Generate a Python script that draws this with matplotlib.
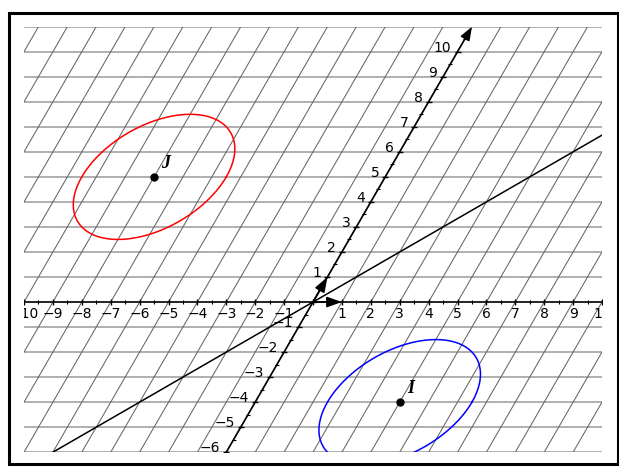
import numpy as np
import matplotlib
matplotlib.use('Agg')
import matplotlib.pyplot as plt
from matplotlib.patches import Rectangle
from matplotlib.transforms import ScaledTranslation

# ---- data (oblique coordinate system) ----
ANGLE_DEG = 60
x_ticks = list(range(-10, 11))
y_ticks = list(range(-6, 11))
x_minor = [v + 0.5 for v in range(-10, 10)]
y_minor = [v + 0.5 for v in range(-6, 11)]
grid_rows = list(range(-6, 12))
grid_cols = list(range(-17, 14))
y_axis_span = [-6, 11]
point_names = ['J', 'I']
point_a = [-8, 5]
point_b = [5, -4]
point_colors = ['red', 'blue']
circle_radius = 2.5
line_t = [-6, 8]  # line b = a

cs, sn = np.cos(np.radians(ANGLE_DEG)), np.sin(np.radians(ANGLE_DEG))


def to_xy(a, b):
    a = np.asarray(a, dtype=float)
    b = np.asarray(b, dtype=float)
    return a + b * cs, b * sn


fig = plt.figure(figsize=(6.19, 4.70), dpi=100)
ax = fig.add_axes([24 / 619, (470 - 452.2) / 470, 578 / 619, 425.5 / 470])
ax.set_xlim(-10, 10)
ax.set_ylim(y_axis_span[0] * sn, y_axis_span[1] * sn)
ax.axis('off')


def offset(dx_px, dy_px):
    return ax.transData + ScaledTranslation(dx_px / 100, dy_px / 100, fig.dpi_scale_trans)


# grid
for k in grid_rows:
    ax.plot([-11, 11], [k * sn, k * sn], color='#9a9a9a', lw=1.1, zorder=1)
for n in grid_cols:
    gx, gy = to_xy([n, n], y_axis_span)
    ax.plot(gx, gy, color='#666666', lw=0.75, zorder=1)

# line b = a
lx, ly = to_xy(line_t, line_t)
ax.plot(lx, ly, color='black', lw=1.1, zorder=3)

# x axis
ax.plot([-10, 10], [0, 0], color='black', lw=1.1, zorder=4)
ax.plot(x_ticks, [0] * len(x_ticks), ls='', marker='|', ms=5, mew=1.0, color='black', zorder=4)
ax.plot(x_minor, [0] * len(x_minor), ls='', marker='|', ms=2.5, mew=0.8, color='black', zorder=4)

# oblique axis
ox0, oy0 = to_xy(0, y_axis_span[0])
ox1, oy1 = to_xy(0, y_axis_span[1])
ax.annotate('', xy=(float(ox1), float(oy1)), xytext=(float(ox0), float(oy0)),
            arrowprops=dict(arrowstyle='-|>,head_length=0.8,head_width=0.3', lw=1.2,
                            color='black', shrinkA=0, shrinkB=0), zorder=4,
            annotation_clip=False)
tx, ty = to_xy([0] * len(y_ticks), y_ticks)
ax.plot(tx, ty, ls='', marker='_', ms=5, mew=1.0, color='black', zorder=4)
mx, my = to_xy([0] * len(y_minor), y_minor)
ax.plot(mx, my, ls='', marker='_', ms=2.5, mew=0.8, color='black', zorder=4)

# unit vectors
for (ua, ub) in [(1, 0), (0, 1)]:
    ux, uy = to_xy(ua, ub)
    ax.annotate('', xy=(float(ux), float(uy)), xytext=(0, 0),
                arrowprops=dict(arrowstyle='-|>,head_length=0.9,head_width=0.32', lw=1.2,
                                color='black', shrinkA=0, shrinkB=0), zorder=5)

# tick labels
for v in x_ticks:
    if v == 0:
        continue
    lab = str(v).replace('-', '\u2212')
    ax.text(v, 0, lab, transform=offset(0, -5), ha='center', va='top',
            fontsize=10, family='DejaVu Sans', zorder=6, clip_on=True)
for v in y_ticks:
    if v == 0:
        continue
    lab = str(v).replace('-', '\u2212')
    px, py = to_xy(0, v)
    ax.text(float(px), float(py), lab, transform=offset(-6, 4), ha='right', va='center',
            fontsize=10, family='DejaVu Sans', zorder=6, clip_on=True)

# circles (in oblique coordinates) and points
theta = np.linspace(0, 2 * np.pi, 400)
for name, a, b, col in zip(point_names, point_a, point_b, point_colors):
    ex, ey = to_xy(a + circle_radius * np.cos(theta), b + circle_radius * np.sin(theta))
    ax.plot(ex, ey, color=col, lw=1.1, zorder=3)
    px, py = to_xy(a, b)
    ax.plot([px], [py], 'o', ms=5, color='black', zorder=6)
    ax.text(float(px), float(py), name, transform=offset(7, 5), ha='left', va='bottom',
            fontsize=13, family='Liberation Serif', style='italic', weight='bold', zorder=6)

# outer frame
fig.add_artist(Rectangle((8.7 / 619, (470 - 464) / 470), (617.5 - 8.7) / 619, (464 - 13) / 470,
                         transform=fig.transFigure, fill=False, lw=2.2, edgecolor='black'))

fig.savefig('out.png', dpi=100)
